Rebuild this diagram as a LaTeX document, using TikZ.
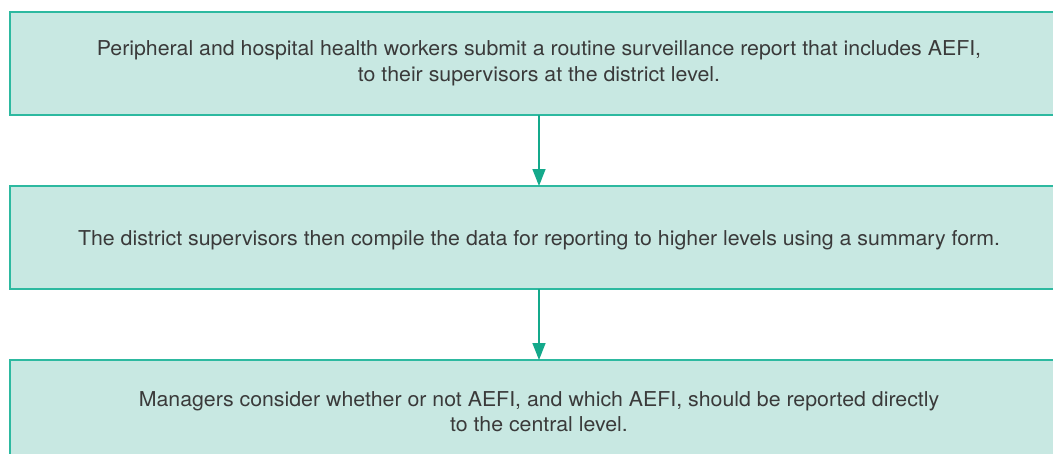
\documentclass[tikz,border=0pt]{standalone}
\usepackage{fontspec}
\setmainfont[FakeStretch=1.04]{TeX Gyre Heros}
\usepackage{tikz}
\usetikzlibrary{arrows.meta,positioning}
\definecolor{boxfill}{HTML}{C8E8E2}
\definecolor{boxline}{HTML}{2DB9A0}
\definecolor{flowarrow}{HTML}{14A98B}
\definecolor{boxtext}{HTML}{3A3A3A}

\begin{document}
\begin{tikzpicture}[
                    x=1pt, y=1pt,
                    >={Triangle[width=13pt,length=17pt]},
                    node distance = 71pt,
                    stage/.style = {draw=boxline, fill=boxfill, line width=1.4pt,
                                    minimum width=1058pt, minimum height=103pt,
                                    inner sep=0pt, outer sep=0pt, align=center,
                                    text=boxtext, font=\fontsize{20.5}{25.5}\selectfont,
                                    execute at begin node=\rule{0pt}{21pt}},
                    flow/.style = {->, draw=flowarrow, fill=flowarrow, line width=1.5pt}
                    ]
\clip (0,0) rectangle (1053,-453);
\useasboundingbox (0,0) rectangle (1053,-453);

\node[stage] (report) at (539,-63.5)
  {Peripheral and hospital health workers submit a routine surveillance report that includes AEFI,\\
   to their supervisors at the district level.};
\node[stage, below=of report] (compile)
  {The district supervisors then compile the data for reporting to higher levels using a summary form.};
\node[stage, below=of compile] (central)
  {Managers consider whether or not AEFI, and which AEFI, should be reported directly\\
   to the central level.};

\path[flow]
    (report)  edge (compile)
    (compile) edge (central);
\end{tikzpicture}
\end{document}
